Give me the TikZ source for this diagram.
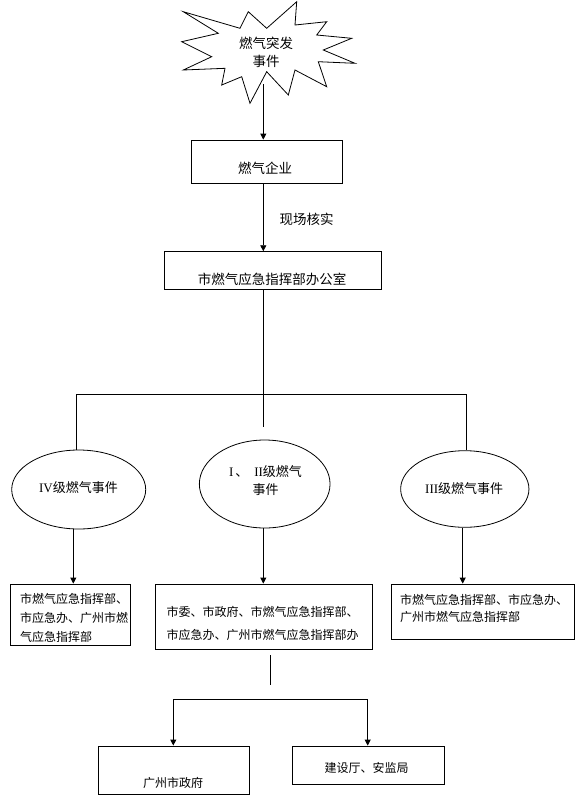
\documentclass[tikz,border=0pt]{standalone}
\usepackage{fontspec}
\setmainfont{Liberation Serif}
\newfontfamily\cjk{Noto Sans CJK SC}
\usetikzlibrary{arrows.meta,shapes.geometric}
\tikzset{
  boxnode/.style={draw, line width=0.9pt, inner sep=0pt},
  ellnode/.style={draw, ellipse, line width=0.8pt, inner sep=0pt},
  conn/.style={line width=0.9pt},
  arr/.style={line width=0.9pt, -{Triangle[length=6pt,width=6pt]}},
  txtbig/.style={inner sep=0pt, font=\cjk\fontsize{13.5}{18}\selectfont, align=center},
  txtmid/.style={inner sep=0pt, font=\fontsize{13}{18}\selectfont, align=center},
  txtsmall/.style={inner sep=0pt, font=\cjk\fontsize{12}{19}\selectfont}
}
\begin{document}
\begin{tikzpicture}[x=1pt,y=-1pt]
\useasboundingbox (0,0) rectangle (584,804);
% starburst
\draw[line width=0.8pt] (183.3,11.7) -- (240,28.3) -- (248.3,11.7) -- (266.7,28.3) -- (296.7,1.7) -- (295,25) -- (326.7,21.7) -- (316.7,35) -- (351.7,38.3) -- (323.3,50) -- (355,63.3) -- (318.3,61.7) -- (326.7,86.7) -- (295,70) -- (288.3,95) -- (266.7,71.7) -- (250,103.3) -- (241.7,76.7) -- (221.7,85) -- (225,68.3) -- (183.3,70) -- (211.7,56.7) -- (181.7,41.7) -- (218.3,33.3) -- cycle;
\node[txtbig] (star) at (266,52) {燃气突发\\事件};
\coordinate (starbot) at (263.3,84);

% boxes
\node[boxnode, minimum width=150.6pt, minimum height=43.3pt] (qy) at (267,161.7) {};
\node[txtbig] (qyt) at (265,168) {燃气企业};
\node[txtbig] (check) at (306.7,219.3) {现场核实};
\node[boxnode, minimum width=216.7pt, minimum height=37.6pt] (zh) at (272.7,270.5) {};
\node[txtbig] (zht) at (272,279) {市燃气应急指挥部办公室};

% ellipses
\node[ellnode, minimum width=134pt, minimum height=79pt] (e4) at (78.7,489.5) {};
\node[txtmid] (e4t) at (78.5,488) {IV{\cjk 级燃气事件}};
\node[ellnode, minimum width=130.7pt, minimum height=88pt] (e12) at (264.7,484) {};
\node[txtmid] (e12t) at (265.5,481) {I\hspace{2pt}{\cjk 、}\hspace{6pt}II{\cjk 级燃气}\\{\cjk 事件}};
\node[ellnode, minimum width=128.3pt, minimum height=76.6pt] (e3) at (464.8,489) {};
\node[txtmid] (e3t) at (464.2,488.3) {III{\cjk 级燃气事件}};

% lower boxes
\node[boxnode, minimum width=120pt, minimum height=61.3pt] (b4) at (70.7,614.7) {};
\node[txtsmall, anchor=west, align=left] (b4t) at (20,617.5) {市燃气应急指挥部、\\市应急办、广州市燃\\气应急指挥部};
\node[boxnode, minimum width=217.7pt, minimum height=65.3pt] (b12) at (263.85,616.7) {};
\node[txtsmall, align=center, font=\cjk\fontsize{12}{23.3}\selectfont] (b12t) at (262.5,623.3) {市委、市政府、市燃气应急指挥部、\\市应急办、广州市燃气应急指挥部办};
\node[boxnode, minimum width=182.6pt, minimum height=55.3pt] (b3) at (483,611.7) {};
\node[txtsmall, anchor=west, align=left, font=\cjk\fontsize{12}{17.3}\selectfont] (b3t) at (400,608.6) {市燃气应急指挥部、市应急办、\\广州市燃气应急指挥部};

\node[boxnode, minimum width=151pt, minimum height=48pt] (gz) at (173.8,770) {};
\node[txtsmall] (gzt) at (173,783.3) {广州市政府};
\node[boxnode, minimum width=152pt, minimum height=38.3pt] (js) at (368.3,765.2) {};
\node[txtsmall] (jst) at (366.5,768.3) {建设厅、安监局};

% connectors
\draw[arr] (starbot) -- (starbot |- qy.north);
\coordinate (qyb) at (263.3,183.3);
\draw[arr] (qyb) -- (qyb |- zh.north);
\coordinate (zhb) at (263.3,289.3);
\coordinate (cend) at (263.3,426.7);
\draw[conn] (zhb) -- (cend);
\coordinate (barL) at (76.7,394);
\coordinate (barR) at (466,394);
\draw[conn] (barL |- e4.north) -- (barL) -- (barR) -- (barR |- e3.north);

\draw[arr] ([xshift=-5.4pt]e4.south) -- ([xshift=-5.4pt]e4.south |- b4.north);
\draw[arr] ([xshift=-1.4pt]e12.south) -- ([xshift=-1.4pt]e12.south |- b12.north);
\draw[arr] ([xshift=-2.1pt]e3.south) -- ([xshift=-2.1pt]e3.south |- b3.north);

\coordinate (tickT) at (270,655);
\coordinate (tickB) at (270,685);
\draw[conn] (tickT) -- (tickB);
\coordinate (bar2L) at (173.3,699.3);
\coordinate (bar2R) at (367.7,699.3);
\draw[conn] (bar2L) -- (bar2R);
\draw[arr] (bar2L) -- (bar2L |- gz.north);
\draw[arr] (bar2R) -- (bar2R |- js.north);
\end{tikzpicture}
\end{document}
